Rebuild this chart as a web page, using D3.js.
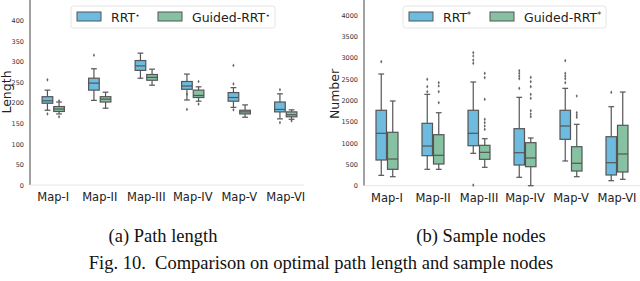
<!DOCTYPE html>
<html>
<head>
<meta charset="utf-8">
<script src="https://cdn.jsdelivr.net/npm/d3@7"></script>
<style>
html,body{margin:0;padding:0;background:#fff;}
svg{display:block;}
</style>
</head>
<body>
<svg id="chart" width="640" height="281"></svg>
<script>
const categories = ["Map-I","Map-II","Map-III","Map-IV","Map-V","Map-VI"];
const seriesNames = ["RRT","Guided-RRT"];
const lengthTicks = [0,50,100,150,200,250,300,350,400];
const nodeTicks = [0,500,1000,1500,2000,2500,3000,3500,4000];

// [whiskerLow, q1, median, q3, whiskerHigh]
const lengthRRT = [
  [182,199,205,215,231],[206,231,248,260,283],[260,279,290,303,321],
  [207,233,241,252,270],[189,204,213,225,237],[161,178,184,202,222]
];
const lengthRRTOut = [[256,173],[316],[],[221,184],[291,246,183],[232,152]];
const lengthGuided = [
  [173,179,185,191,202],[187,202,209,215,226],[243,255,262,269,282],
  [204,213,218,231,239],[165,173,178,182,195],[160,166,171,178,183]
];
const lengthGuidedOut = [[205,166],[],[],[252,197],[],[156]];

const nodesRRT = [
  [243,602,1228,1767,2617],[384,703,930,1462,2141],[759,937,1228,1767,2430],
  [197,485,773,1336,2071],[579,1087,1399,1767,2282],[117,251,539,1148,1851]
];
const nodesRRTOut = [[2905],[2493,2320,2203],[3116,3039,2945,2868,15],
  [2695,2633,2570,2507,2282],[2929,2633,2570,2507,2413],[2188]];
const nodesGuided = [
  [211,384,625,1251,1985],[384,508,712,1195,1710],[431,618,782,946,1101],
  [0,445,649,1008,1118],[211,344,525,914,1438],[150,321,743,1415,2195]
];
const nodesGuidedOut = [[],[2413,2336,2203,1945],[2633,2530,2024,1556,1476,1399,1321],
  [2540,2437,2320,2141,2047,1757,1680,1617],[2102,1710,1656,1602],[]];

const colors = ["#6dbcdf","#86c1a2"];
const edge = "#555555";
const svg = d3.select("#chart");

function panel(opt){
  const g = svg.append("g");
  const x = d3.scaleBand().domain(categories).range([opt.x0, opt.x1]);
  const y = d3.scaleLinear().domain([0, opt.ymax]).range([opt.yb, opt.yt]);
  // spines
  g.append("line").attr("x1",opt.x0).attr("x2",opt.x0).attr("y1",0).attr("y2",opt.yb)
    .attr("stroke","#8a8a8a").attr("stroke-width",1.6);
  g.append("line").attr("x1",opt.x0).attr("x2",opt.xEnd).attr("y1",opt.yb).attr("y2",opt.yb)
    .attr("stroke","#e6e6e6").attr("stroke-width",1);
  // y ticks
  const ya = d3.axisLeft(y).tickValues(opt.ticks).tickFormat(d3.format("d")).tickSize(0).tickPadding(5);
  const yg = g.append("g").attr("transform",`translate(${opt.x0 - 1},0)`).call(ya);
  yg.select(".domain").remove();
  yg.selectAll("text").attr("font-family","DejaVu Sans").attr("font-size",6.5).attr("fill","#333");
  // x ticks
  const xa = d3.axisBottom(x).tickSize(0).tickPadding(8);
  const xg = g.append("g").attr("transform",`translate(0,${opt.yb})`).call(xa);
  xg.select(".domain").remove();
  xg.selectAll("text").attr("font-family","DejaVu Sans").attr("font-size",11.5).attr("fill","#222");
  // y label
  g.append("text").attr("transform",`translate(${opt.labelX},${opt.labelY}) rotate(-90)`)
    .attr("text-anchor","middle").attr("font-family","DejaVu Sans").attr("font-size",12.5)
    .attr("fill","#222").text(opt.ylabel);

  const bw = x.bandwidth()*0.25;
  [opt.s1, opt.s2].forEach((data, si) => {
    const outs = si===0 ? opt.o1 : opt.o2;
    data.forEach((d, i) => {
      const c = x(categories[i]) + x.bandwidth()/2;
      const left = si===0 ? c - bw : c;
      const mid = left + bw/2;
      const bg = g.append("g");
      bg.append("line").attr("x1",mid).attr("x2",mid).attr("y1",y(d[0])).attr("y2",y(d[1]))
        .attr("stroke",edge).attr("stroke-width",1.2);
      bg.append("line").attr("x1",mid).attr("x2",mid).attr("y1",y(d[3])).attr("y2",y(d[4]))
        .attr("stroke",edge).attr("stroke-width",1.2);
      [d[0], d[4]].forEach(v => bg.append("line").attr("x1",mid-bw/4).attr("x2",mid+bw/4)
        .attr("y1",y(v)).attr("y2",y(v)).attr("stroke",edge).attr("stroke-width",1.2));
      bg.append("rect").attr("x",left+0.5).attr("width",bw-1).attr("y",y(d[3]))
        .attr("height",y(d[1])-y(d[3])).attr("fill",colors[si]).attr("stroke",edge).attr("stroke-width",1.2);
      bg.append("line").attr("x1",left+0.5).attr("x2",left+bw-0.5).attr("y1",y(d[2])).attr("y2",y(d[2]))
        .attr("stroke",edge).attr("stroke-width",1.2);
      outs[i].forEach(v => bg.append("path")
        .attr("d", d3.symbol(d3.symbolDiamond, 4)())
        .attr("transform",`translate(${mid},${y(v)})`).attr("fill","#666"));
    });
  });
  // legend
  const lg = g.append("g");
  lg.append("rect").attr("x",opt.leg[0]).attr("y",6).attr("width",opt.leg[1]).attr("height",22)
    .attr("rx",2.5).attr("fill","#fff").attr("stroke","#dddddd").attr("stroke-width",0.8);
  const items = [
    {px: opt.leg[0]+6, tx: opt.leg[0]+40, base:"RRT"},
    {px: opt.leg[0]+87, tx: opt.leg[0]+121, base:"Guided-RRT"}
  ];
  items.forEach((it, k) => {
    lg.append("rect").attr("x",it.px).attr("y",12).attr("width",24).attr("height",9)
      .attr("fill",colors[k]).attr("stroke",edge).attr("stroke-width",1);
    const t = lg.append("text").attr("x",it.tx).attr("y",21.5).attr("font-family","DejaVu Sans")
      .attr("font-size",12.5).attr("fill","#222");
    t.append("tspan").text(it.base);
    t.append("tspan").attr("dy",-4).attr("font-size",8).text(opt.star);
  });
}

panel({x0:30, x1:309, xEnd:304, yb:185, yt:20.7, ymax:400, ticks:lengthTicks,
  ylabel:"Length", labelX:11, labelY:92, s1:lengthRRT, s2:lengthGuided,
  o1:lengthRRTOut, o2:lengthGuidedOut, leg:[71,204], star:"⋆"});
panel({x0:364, x1:640, xEnd:640, yb:185.7, yt:15, ymax:4000, ticks:nodeTicks,
  ylabel:"Number", labelX:339, labelY:94, s1:nodesRRT, s2:nodesGuided,
  o1:nodesRRTOut, o2:nodesGuidedOut, leg:[403,203], star:"*"});

// captions
const cap = svg.append("g").attr("font-family","Liberation Serif").attr("fill","#111");
cap.append("text").attr("x",163).attr("y",242).attr("text-anchor","middle").attr("font-size",18.5).text("(a) Path length");
cap.append("text").attr("x",481).attr("y",242).attr("text-anchor","middle").attr("font-size",18.5).text("(b) Sample nodes");
cap.append("text").attr("x",321).attr("y",269).attr("text-anchor","middle").attr("font-size",18.5)
  .attr("xml:space","preserve").style("white-space","pre")
  .text("Fig. 10.  Comparison on optimal path length and sample nodes");
</script>
</body>
</html>
